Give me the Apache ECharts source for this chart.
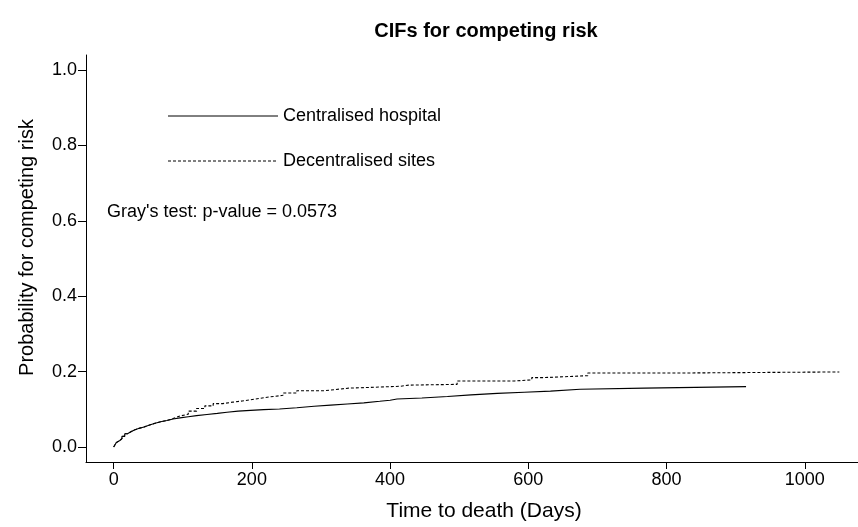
<!DOCTYPE html>
<html>
<head>
<meta charset="utf-8">
<script src="https://cdn.jsdelivr.net/npm/echarts@6/dist/echarts.min.js"></script>
<style>html,body{margin:0;padding:0;background:#fff}#c{width:858px;height:527px}</style>
</head>
<body>
<div id="c"></div>
<script>
// ---- data (days, cumulative incidence) ----
var seriesNames = ['Centralised hospital', 'Decentralised sites'];
var centralisedHospital = [
  [0,0],[2,0.006],[4,0.012],[6,0.017],[9,0.022],[12,0.028],[16,0.035],[20,0.040],[25,0.045],[30,0.049],
  [36,0.053],[44,0.058],[52,0.063],[60,0.067],[68,0.070],[77,0.074],[86,0.077],[96,0.080],[108,0.083],
  [120,0.086],[135,0.089],[150,0.092],[164,0.095],[180,0.097],[198,0.099],[217,0.1005],[240,0.104],
  [265,0.108],[290,0.111],[314,0.114],[338,0.117],[362,0.121],[385,0.124],[400,0.127],[410,0.130],
  [446,0.134],[483,0.138],[517,0.142],[555,0.145],[594,0.148],[632,0.153],[675,0.156],[768,0.160],[915,0.160]
];
var decentralisedSites = [
  [0,0],[2,0.006],[4,0.012],[6,0.017],[9,0.022],[12,0.028],[16,0.035],[20,0.040],[25,0.045],[30,0.049],
  [36,0.053],[44,0.058],[52,0.063],[60,0.067],[68,0.070],[77,0.074],[84,0.078],[90,0.082],[96,0.087],
  [108,0.095],[120,0.102],[132,0.109],[144,0.115],[158,0.119],[173,0.122],[186,0.125],[198,0.129],
  [212,0.133],[227,0.137],[245,0.143],[265,0.149],[304,0.151],[314,0.156],[340,0.158],[372,0.161],
  [415,0.164],[427,0.166],[497,0.175],[580,0.178],[605,0.184],[623,0.189],[686,0.196],[811,0.199],[1050,0.199]
];
var xTicks = [0, 200, 400, 600, 800, 1000];
var yTicks = [0, 0.2, 0.4, 0.6, 0.8, 1.0];
var titleText = 'CIFs for competing risk';
var xName = 'Time to death (Days)';
var yName = 'Probability for competing risk';
var testText = "Gray's test: p-value = 0.0573";

var FONT = '"Liberation Sans", Arial, sans-serif';
var chart = echarts.init(document.getElementById('c'), null, {renderer: 'canvas'});
chart.setOption({
  animation: false,
  backgroundColor: '#fff',
  title: {
    text: titleText, left: 481, top: 16, textAlign: 'center',
    textStyle: {fontFamily: FONT, fontSize: 20, fontWeight: 'bold', color: '#000'}
  },
  grid: {left: 86, right: 0, top: 55, bottom: 64, containLabel: false},
  xAxis: {
    type: 'value', min: -40, max: 1077,
    name: xName, nameLocation: 'middle', nameGap: 39,
    nameTextStyle: {fontFamily: FONT, fontSize: 21, color: '#000', padding: [0, 0, 0, 24]},
    axisLine: {onZero: false, lineStyle: {color: '#000', width: 1}},
    axisTick: {show: true, length: 7, inside: false, customValues: xTicks, lineStyle: {color: '#000'}},
    axisLabel: {customValues: xTicks, margin: 9, fontFamily: FONT, fontSize: 18, color: '#000',
      formatter: function (v) { return String(v); }},
    splitLine: {show: false}
  },
  yAxis: {
    type: 'value', min: -0.04, max: 1.04,
    name: yName, nameLocation: 'middle', nameGap: 49, nameRotate: 90,
    nameTextStyle: {fontFamily: FONT, fontSize: 20, color: '#000', padding: [0, 0, 0, 22]},
    axisLine: {onZero: false, lineStyle: {color: '#000', width: 1}},
    axisTick: {show: true, length: 8, inside: false, customValues: yTicks, lineStyle: {color: '#000'}},
    axisLabel: {customValues: yTicks, margin: 9, fontFamily: FONT, fontSize: 18, color: '#000',
      formatter: function (v) { return v.toFixed(1); }},
    splitLine: {show: false}
  },
  series: [
    {
      name: seriesNames[0], type: 'line', step: 'end', showSymbol: false, symbol: 'none',
      data: centralisedHospital,
      lineStyle: {color: '#000', width: 1.1, type: 'solid'}
    },
    {
      name: seriesNames[1], type: 'line', step: 'end', showSymbol: false, symbol: 'none',
      data: decentralisedSites,
      lineStyle: {color: '#000', width: 1.1, type: [3, 2]}
    }
  ],
  graphic: [
    {type: 'line', shape: {x1: 168, y1: 116, x2: 278, y2: 116}, style: {stroke: '#000', lineWidth: 1}},
    {type: 'text', x: 283, y: 116, style: {text: seriesNames[0], fontFamily: FONT, fontSize: 18, fill: '#000', verticalAlign: 'middle', align: 'left'}},
    {type: 'line', shape: {x1: 168, y1: 161, x2: 278, y2: 161}, style: {stroke: '#000', lineWidth: 1, lineDash: [3, 2]}},
    {type: 'text', x: 283, y: 161, style: {text: seriesNames[1], fontFamily: FONT, fontSize: 18, fill: '#000', verticalAlign: 'middle', align: 'left'}},
    {type: 'text', x: 107, y: 212, style: {text: testText, fontFamily: FONT, fontSize: 18, fill: '#000', verticalAlign: 'middle', align: 'left'}}
  ]
});
</script>
</body>
</html>
